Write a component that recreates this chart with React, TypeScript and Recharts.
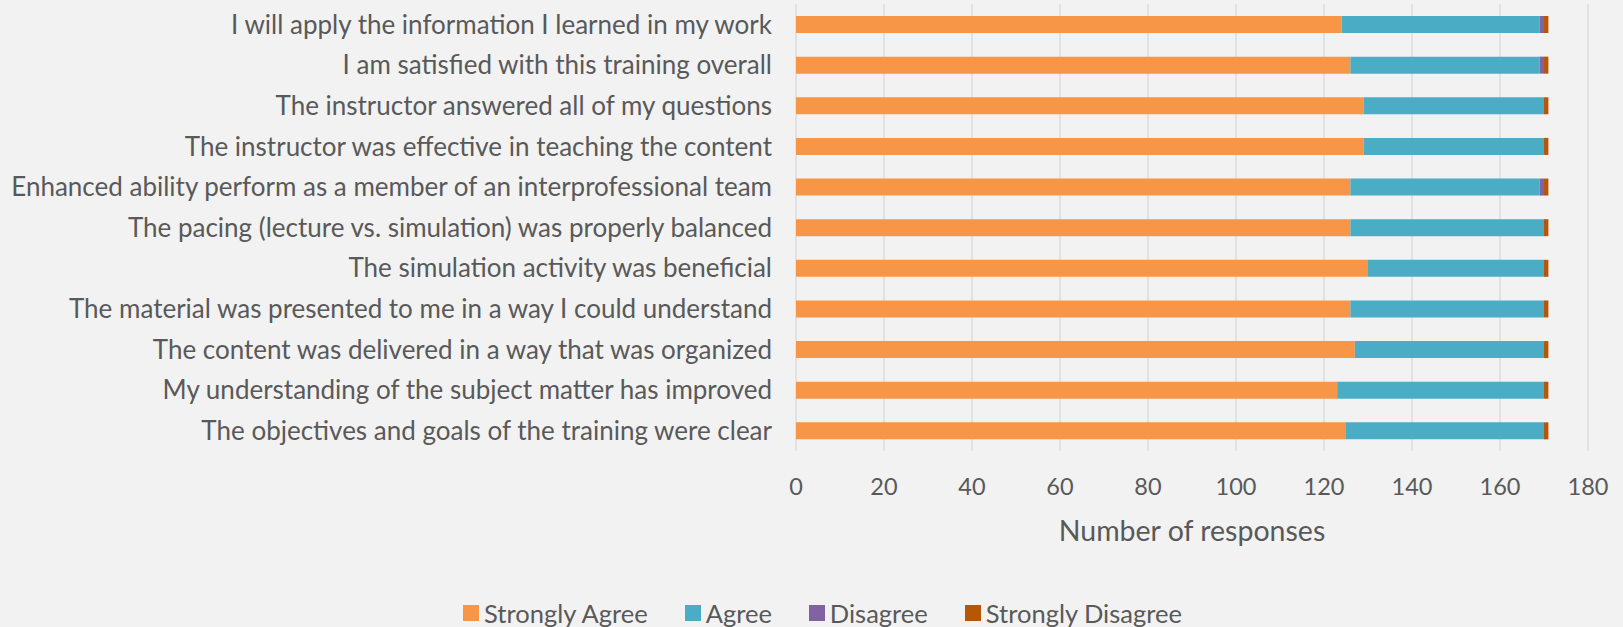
import React from 'react';
import { BarChart, Bar, XAxis, YAxis, CartesianGrid, Legend, Label } from 'recharts';

const categories = [
  'I will apply the information I learned in my work',
  'I am satisfied with this training overall',
  'The instructor answered all of my questions',
  'The instructor was effective in teaching the content',
  'Enhanced ability perform as a member of an interprofessional team',
  'The pacing (lecture vs. simulation) was properly balanced',
  'The simulation activity was beneficial',
  'The material was presented to me in a way I could understand',
  'The content was delivered in a way that was organized',
  'My understanding of the subject matter has improved',
  'The objectives and goals of the training were clear',
];
const stronglyAgree = [124, 126, 129, 129, 126, 126, 130, 126, 127, 123, 125];
const agree = [45, 43, 41, 41, 43, 44, 40, 44, 43, 47, 45];
const disagree = [1, 1, 0, 0, 1, 0, 0, 0, 0, 0, 0];
const stronglyDisagree = [1, 1, 1, 1, 1, 1, 1, 1, 1, 1, 1];
const xTicks = [0, 20, 40, 60, 80, 100, 120, 140, 160, 180];
const seriesKeys = ['sa', 'a', 'd', 'sd'];
const seriesNames = ['Strongly Agree', 'Agree', 'Disagree', 'Strongly Disagree'];
const seriesColors = ['#F79646', '#4BACC6', '#8064A2', '#B65708'];
const axisTitle = 'Number of responses';

const data = categories.map((name, i) => ({
  name,
  sa: stronglyAgree[i],
  a: agree[i],
  d: disagree[i],
  sd: stronglyDisagree[i],
}));

const FONT = 'Lato, "Open Sans", sans-serif';
const TEXT = '#595959';

const CategoryTick = (props: any) => {
  const { x, y, payload } = props;
  return (
    <text
      x={x}
      y={y}
      dy="0.36em"
      textAnchor="end"
      fill={TEXT}
      fontSize={26}
      fontFamily={FONT}
    >
      {payload.value}
    </text>
  );
};

const renderLegend = () => (
  <div
    style={{
      display: 'flex',
      justifyContent: 'center',
      alignItems: 'center',
      height: 28,
      paddingLeft: 57,
      boxSizing: 'border-box',
      fontFamily: FONT,
    }}
  >
    {seriesNames.map((n, i) => (
      <span key={n} style={{ display: 'flex', alignItems: 'center', marginRight: i < seriesNames.length - 1 ? 37 : 0 }}>
        <span style={{ width: 16, height: 16, background: seriesColors[i], marginRight: 5, display: 'inline-block' }} />
        <span style={{ fontSize: 25.5, color: TEXT, lineHeight: '28px' }}>{n}</span>
      </span>
    ))}
  </div>
);

export default function App() {
  return (
    <div style={{ position: 'absolute', left: 0, top: 0, width: 1623, height: 627, background: '#f2f2f2', overflow: 'hidden' }}>
      <BarChart
        width={1623}
        height={627}
        data={data}
        layout="vertical"
        margin={{ top: 4, right: 35, bottom: 0, left: 0 }}
        barSize={17}
      >
        <CartesianGrid horizontal={false} vertical={true} stroke="#d9d9d9" strokeWidth={1.3} />
        <XAxis
          type="number"
          domain={[0, 180]}
          ticks={xTicks}
          interval={0}
          axisLine={false}
          tickLine={false}
          tickSize={0}
          tickMargin={27}
          height={148}
          tick={{ fill: TEXT, fontSize: 23.5, fontFamily: FONT }}
        >
          <Label value={axisTitle} position="insideTop" offset={70} fill={TEXT} fontSize={28.5} fontFamily={FONT} />
        </XAxis>
        <YAxis
          type="category"
          dataKey="name"
          width={796}
          axisLine={false}
          tickLine={false}
          tickSize={0}
          tickMargin={24}
          interval={0}
          tick={<CategoryTick />}
        />
        <Legend verticalAlign="bottom" content={renderLegend} />
        {seriesKeys.map((k, i) => (
          <Bar key={k} dataKey={k} name={seriesNames[i]} stackId="s" fill={seriesColors[i]} isAnimationActive={false} />
        ))}
      </BarChart>
    </div>
  );
}
